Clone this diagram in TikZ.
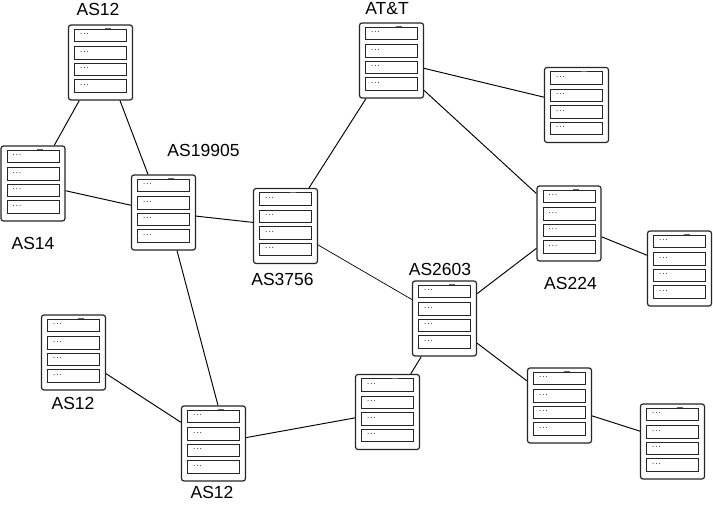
\documentclass[tikz,border=0pt]{standalone}
\usepackage{fontspec}
\setmainfont{Liberation Sans}
\tikzset{
  x=1pt,y=-1pt,
  server/.style={draw=black!85,fill=white,rounded corners=2.5pt,line width=1.2pt,minimum width=64pt,minimum height=75pt,inner sep=0pt},
  rowbox/.style={draw=black!85,fill=white,line width=1pt,minimum width=52pt,minimum height=12.5pt,inner sep=0pt},
  dots/.style={font=\fontsize{8}{8}\selectfont,inner sep=0pt,anchor=west,text=black},
  label/.style={font=\fontsize{17.5}{19}\selectfont,inner sep=0pt,text=black},
  link/.style={draw=black,line width=0.95pt},
  thinlink/.style={draw=black,line width=0.7pt}
}
\newcommand{\srv}[3]{%
  \node[server] (#1) at (#2,#3) {};
  \foreach \r/\d in {1/-27,2/-9.5,3/7,4/23.5}{
    \node[rowbox] (#1r\r) at (#2,#3+\d) {};
    \node[dots] (#1d\r) at ([xshift=6pt,yshift=1pt]#1r\r.west) {.\kern1pt.\kern1pt.};
  }
  \draw[line width=1pt,black!60] ([xshift=4pt]#1r1.north) -- ([xshift=10pt]#1r1.north);
}
\begin{document}
\begin{tikzpicture}
\useasboundingbox (0,0) rectangle (713,508);
\fill[white] (0,0) rectangle (713,508);
\srv{a}{100.5}{62.5}
\srv{att}{391.5}{60.5}
\srv{tr}{576.5}{105}
\srv{b}{33}{183.5}
\srv{c}{163.5}{212.5}
\srv{d}{285.5}{226}
\srv{e}{569}{223.5}
\srv{f}{679.5}{268.5}
\srv{g}{444.5}{318.5}
\srv{h}{73.5}{352.5}
\srv{i}{213.5}{443.5}
\srv{j}{387.5}{412}
\srv{k}{559.5}{405.5}
\srv{l}{672.5}{441.5}
\draw[link] (a) -- (b);
\draw[link] ([xshift=19.5pt]a.south) -- ([xshift=-15.5pt]c.north);
\draw[link] (b) -- (c);
\draw[link] (c) -- (d);
\draw[link] ([xshift=13.5pt]c.south) -- ([xshift=4.5pt]i.north);
\draw[link] (h) -- (i);
\draw[link] (i) -- (j);
\draw[link] (j) -- (g);
\draw[link] ([xshift=23.5pt]d.north) -- ([xshift=-25.5pt]att.south);
\draw[thinlink] (d) -- (g);
\draw[link] (att) -- (tr);
\draw[link] (att) -- (e);
\draw[link] (e) -- (f);
\draw[link] (e) -- (g);
\draw[link] (g) -- (k);
\draw[link] (k) -- (l);
\node[label] (la) at (98,9) {AS12};
\node[label] (lb) at (387,9) {AT\&T};
\node[label] (lc) at (203.5,150.5) {AS19905};
\node[label] (ld) at (33,243) {AS14};
\node[label] (le) at (282.5,279) {AS3756};
\node[label] (lf) at (440,269) {AS2603};
\node[label] (lg) at (570.5,283) {AS224};
\node[label] (lh) at (73,403) {AS12};
\node[label] (li) at (212,492) {AS12};
\end{tikzpicture}
\end{document}
